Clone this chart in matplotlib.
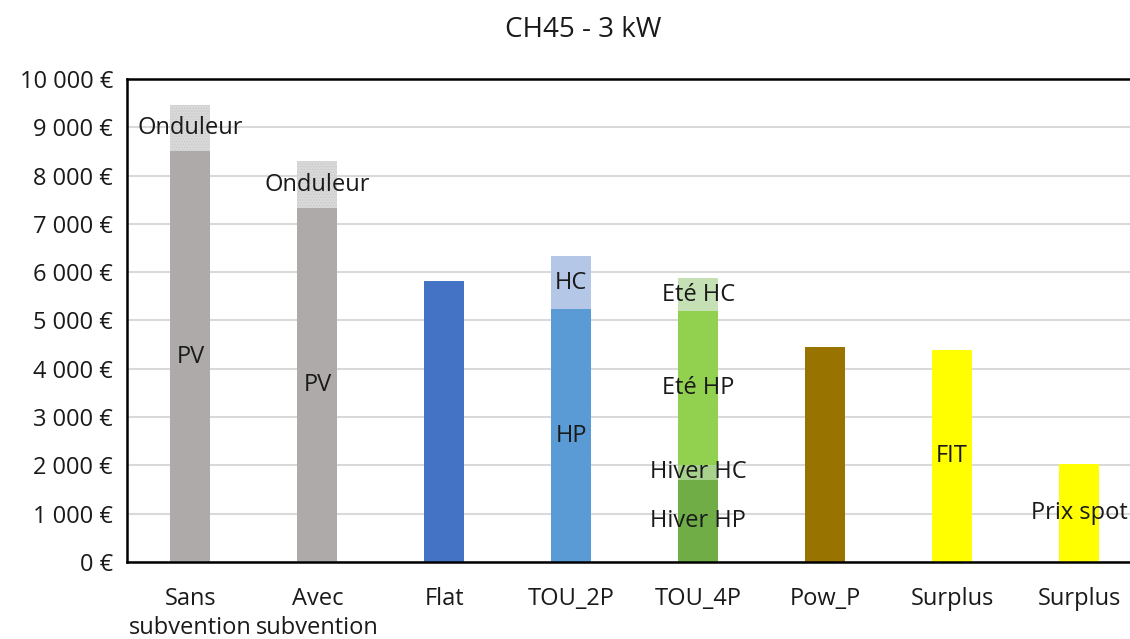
import matplotlib
matplotlib.use("Agg")
from matplotlib import pyplot as plt
import numpy as np

plt.rcParams['font.family'] = ['Open Sans', 'DejaVu Sans']
plt.rcParams['hatch.linewidth'] = 0.6

# categories (x axis)
categories = ["Sans\nsubvention", "Avec\nsubvention", "Flat", "TOU_2P", "TOU_4P",
              "Pow_P", "Surplus", "Surplus"]

# stacked segments per category: (label shown in bar, value, colour)
segments = [
    [("PV", 8500, "#AEAAAA"), ("Onduleur", 960, "#D9D9D9")],
    [("PV", 7320, "#AEAAAA"), ("Onduleur", 980, "#D9D9D9")],
    [("", 5810, "#4472C4")],
    [("HP", 5230, "#5B9BD5"), ("HC", 1100, "#B4C7E7")],
    [("Hiver HP", 1700, "#70AD47"), ("Hiver HC", 310, "#A9D18E"),
     ("Eté HP", 3180, "#92D050"), ("Eté HC", 680, "#C5E0B4")],
    [("", 4460, "#997300")],
    [("FIT", 4380, "#FFFF00")],
    [("Prix spot", 2030, "#FFFF00")],
]

yticks = np.arange(0, 10001, 1000)

fig = plt.figure(figsize=(11.3, 6.39), dpi=100)
ax = fig.add_axes([0.1124, 0.1205, 0.8987, 0.7559])

x = np.arange(len(categories))
for i, segs in enumerate(segments):
    bottom = 0
    for label, val, col in segs:
        hatch = "......" if label == "Onduleur" else None
        ax.bar(x[i], val, bottom=bottom, width=0.315, color=col, hatch=hatch,
               edgecolor="#C9C9C9" if hatch else col, linewidth=0, zorder=2)
        if label:
            ax.text(x[i], bottom + val / 2, label, ha="center", va="center",
                    fontsize=17, color="#1a1a1a", zorder=3)
        bottom += val

ax.set_xlim(-0.5, 7.5)
ax.set_ylim(0, 10000)
ax.set_yticks(yticks)
ax.set_yticklabels([("{:,}".format(v)).replace(",", " ") + " €" for v in yticks])
ax.set_xticks(x)
ax.set_xticklabels(categories, linespacing=1.25)
ax.tick_params(axis="both", length=0, labelsize=17, colors="#1a1a1a")
ax.tick_params(axis="x", pad=18)
ax.tick_params(axis="y", pad=10)

ax.yaxis.grid(True, color="#D9D9D9", linewidth=1.5, zorder=0)
ax.set_axisbelow(True)
for s in ax.spines.values():
    s.set_color("black")
    s.set_linewidth(1.8)

fig.text(583 / 1130, 1 - 30 / 639, "CH45 - 3 kW", ha="center", va="center",
         fontsize=20, color="#1a1a1a")

fig.savefig("out.png", dpi=100)
